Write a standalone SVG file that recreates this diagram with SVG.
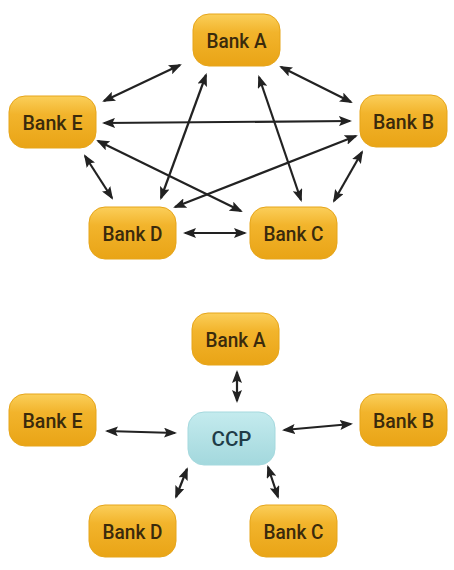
<svg xmlns="http://www.w3.org/2000/svg" width="454" height="570" viewBox="0 0 454 570">
<style>
.bank rect{fill:url(#gBank);stroke:#e6a51a;stroke-width:1}
.ccp rect{fill:url(#gCcp);stroke:#a5d9de;stroke-width:1}
text{font-family:Roboto,"Liberation Sans",Arial,sans-serif;font-weight:500;font-size:21px;text-anchor:middle;dominant-baseline:central}
.bank text{fill:#3a2a0c}
.ccp text{fill:#1f3c48}
#connectors line{stroke:#222;stroke-width:2.2;marker-start:url(#ah);marker-end:url(#ah)}
</style>
<defs>
<linearGradient id="gBank" x1="0" y1="0" x2="0" y2="1">
<stop offset="0" stop-color="#fbcf5a"/>
<stop offset="0.35" stop-color="#f2b42c"/>
<stop offset="1" stop-color="#e9a416"/>
</linearGradient>
<linearGradient id="gCcp" x1="0" y1="0" x2="0" y2="1">
<stop offset="0" stop-color="#c4ebee"/>
<stop offset="1" stop-color="#a3d8dd"/>
</linearGradient>
<marker id="ah" viewBox="0 0 13 10" refX="11" refY="5" markerWidth="13" markerHeight="10" markerUnits="userSpaceOnUse" orient="auto-start-reverse">
<path d="M0,0 L13,5 L0,10 L2.5,5 z" fill="#222"/>
</marker>
</defs>
<g id="connectors">
<line x1="104" y1="101" x2="180" y2="65"/>
<line x1="281" y1="67" x2="351" y2="102"/>
<line x1="104" y1="123" x2="350" y2="121"/>
<line x1="206" y1="75" x2="161" y2="198"/>
<line x1="259" y1="77" x2="301" y2="200"/>
<line x1="98" y1="141" x2="241" y2="211"/>
<line x1="85" y1="156" x2="112" y2="198"/>
<line x1="175" y1="207" x2="356" y2="136"/>
<line x1="362" y1="152" x2="334" y2="201"/>
<line x1="185" y1="233" x2="245" y2="233"/>
<line x1="237" y1="372" x2="237" y2="401"/>
<line x1="107" y1="431" x2="175" y2="433"/>
<line x1="284" y1="430" x2="351" y2="424"/>
<line x1="187" y1="469" x2="176" y2="497"/>
<line x1="268" y1="467" x2="278" y2="497"/>
</g>
<g id="topBankA" class="bank"><rect x="193" y="14" width="87" height="52" rx="16"/><text x="236.5" y="41" textLength="60" lengthAdjust="spacingAndGlyphs">Bank A</text></g>
<g id="topBankE" class="bank"><rect x="9" y="96" width="87" height="52" rx="16"/><text x="52.5" y="123" textLength="60" lengthAdjust="spacingAndGlyphs">Bank E</text></g>
<g id="topBankB" class="bank"><rect x="360" y="95" width="87" height="52" rx="16"/><text x="403.5" y="122" textLength="61" lengthAdjust="spacingAndGlyphs">Bank B</text></g>
<g id="topBankD" class="bank"><rect x="89" y="207" width="87" height="52" rx="16"/><text x="132.5" y="234" textLength="60" lengthAdjust="spacingAndGlyphs">Bank D</text></g>
<g id="topBankC" class="bank"><rect x="250" y="207" width="87" height="52" rx="16"/><text x="293.5" y="234" textLength="60" lengthAdjust="spacingAndGlyphs">Bank C</text></g>
<g id="botBankA" class="bank"><rect x="192" y="313" width="87" height="52" rx="16"/><text x="235.5" y="340" textLength="60" lengthAdjust="spacingAndGlyphs">Bank A</text></g>
<g id="botBankE" class="bank"><rect x="9" y="394" width="87" height="52" rx="16"/><text x="52.5" y="421" textLength="60" lengthAdjust="spacingAndGlyphs">Bank E</text></g>
<g id="botBankB" class="bank"><rect x="360" y="394" width="87" height="52" rx="16"/><text x="403.5" y="421" textLength="61" lengthAdjust="spacingAndGlyphs">Bank B</text></g>
<g id="CCP" class="ccp"><rect x="188" y="412" width="87" height="53" rx="16"/><text x="231.5" y="439" textLength="40" lengthAdjust="spacingAndGlyphs">CCP</text></g>
<g id="botBankD" class="bank"><rect x="89" y="505" width="87" height="52" rx="16"/><text x="132.5" y="532" textLength="60" lengthAdjust="spacingAndGlyphs">Bank D</text></g>
<g id="botBankC" class="bank"><rect x="250" y="505" width="87" height="52" rx="16"/><text x="293.5" y="532" textLength="60" lengthAdjust="spacingAndGlyphs">Bank C</text></g>
</svg>
